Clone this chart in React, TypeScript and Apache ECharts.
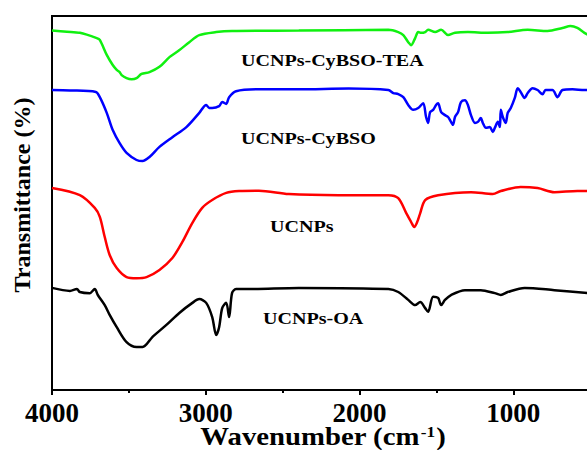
import React, { useEffect, useRef } from "react";
import * as echarts from "echarts";

// FTIR spectra, stacked with vertical offsets (transmittance, a.u.)
const teaWave = [4000, 3903, 3819, 3709, 3689, 3644, 3605, 3579, 3560, 3547, 3515, 3482, 3450, 3418, 3366, 3301, 3236, 3171, 3107, 3042, 2932, 2829, 2395, 1812, 1748, 1715, 1683, 1664, 1638, 1618, 1599, 1573, 1554, 1508, 1469, 1424, 1379, 1295, 1165, 1036, 906, 777, 680, 628, 583, 537, 500];
const teaT = [96.1, 95.8, 95.5, 94.1, 93.6, 89.6, 86.9, 85.6, 85.0, 84.2, 83.4, 83.1, 83.4, 84.5, 85.0, 86.4, 89.0, 90.9, 93.0, 94.9, 95.7, 96.0, 96.1, 96.3, 95.7, 94.9, 93.0, 92.2, 94.1, 95.7, 95.5, 95.7, 96.3, 95.7, 96.3, 94.9, 95.5, 95.7, 95.5, 95.7, 96.3, 96.0, 96.8, 97.3, 96.8, 95.5, 94.7];

const cybsoWave = [4000, 3883, 3715, 3689, 3644, 3605, 3560, 3515, 3450, 3411, 3366, 3301, 3217, 3126, 3042, 2997, 2977, 2958, 2913, 2893, 2867, 2848, 2803, 2654, 2395, 2071, 1812, 1780, 1748, 1715, 1683, 1651, 1618, 1586, 1567, 1554, 1541, 1521, 1502, 1489, 1469, 1444, 1424, 1405, 1392, 1379, 1359, 1340, 1314, 1295, 1275, 1249, 1230, 1211, 1198, 1178, 1152, 1133, 1120, 1100, 1087, 1081, 1068, 1049, 1036, 1016, 990, 971, 952, 926, 906, 874, 842, 809, 790, 745, 712, 680, 615, 537, 500];
const cybsoT = [80.2, 80.1, 79.7, 78.3, 74.1, 69.5, 66.0, 63.4, 61.5, 61.2, 62.3, 65.0, 67.6, 70.3, 74.1, 76.2, 75.4, 75.4, 75.9, 77.0, 76.5, 78.3, 79.9, 80.4, 80.4, 80.6, 80.2, 79.4, 79.1, 78.3, 76.2, 74.9, 75.4, 76.7, 73.0, 71.4, 74.3, 74.9, 76.2, 76.7, 74.3, 73.5, 73.0, 71.7, 70.9, 73.0, 74.3, 77.0, 77.5, 76.2, 73.5, 71.4, 71.7, 72.7, 71.4, 70.1, 70.3, 69.0, 70.1, 71.7, 70.3, 74.9, 73.0, 71.4, 74.1, 75.4, 78.1, 80.7, 79.7, 78.1, 79.4, 80.7, 80.2, 79.1, 80.2, 80.2, 78.3, 80.2, 80.4, 80.2, 80.2];

const ucnpWave = [4000, 3819, 3722, 3689, 3657, 3625, 3579, 3515, 3450, 3385, 3301, 3217, 3152, 3087, 3023, 2958, 2867, 2783, 2654, 2460, 2136, 1812, 1748, 1696, 1664, 1644, 1625, 1605, 1573, 1489, 1275, 1133, 1081, 952, 842, 732, 583, 500];
const ucnpT = [54.0, 52.1, 48.7, 46.3, 40.9, 36.1, 32.6, 30.2, 29.9, 30.2, 32.1, 35.3, 39.6, 44.7, 48.7, 50.8, 52.7, 53.2, 53.3, 52.4, 52.1, 52.1, 51.3, 47.3, 44.9, 43.6, 44.9, 47.3, 50.8, 52.1, 52.9, 52.4, 53.2, 54.3, 54.0, 52.9, 53.2, 53.2];

const oaWave = [4000, 3883, 3838, 3819, 3754, 3722, 3702, 3657, 3625, 3579, 3515, 3450, 3411, 3346, 3256, 3172, 3087, 3042, 2997, 2958, 2932, 2913, 2893, 2867, 2848, 2829, 2803, 2719, 2395, 1812, 1748, 1683, 1638, 1605, 1573, 1554, 1521, 1489, 1469, 1444, 1405, 1314, 1211, 1120, 1081, 1036, 926, 732, 500];
const oaT = [27.3, 26.5, 27.0, 26.2, 25.9, 27.0, 25.4, 22.7, 20.1, 16.8, 12.8, 11.5, 11.5, 14.2, 17.4, 20.6, 23.3, 24.3, 23.3, 19.5, 14.7, 16.8, 21.9, 23.3, 19.5, 25.9, 27.0, 27.0, 27.3, 27.0, 26.2, 24.1, 22.7, 23.5, 21.9, 20.9, 24.9, 24.6, 22.7, 24.1, 25.4, 26.7, 26.7, 25.9, 25.4, 26.2, 27.3, 26.7, 25.9];

const sampleNames = ["UCNPs-CyBSO-TEA", "UCNPs-CyBSO", "UCNPs", "UCNPs-OA"];
const sampleColors = ["#10f010", "#0000ff", "#ff0000", "#000000"];
const xTicks = [4000, 3000, 2000, 1000];

const pairs = (w: number[], t: number[]) => w.map((x, i) => [x, t[i]]);

const FONT = "'Liberation Serif', 'Times New Roman', serif";

export default function App() {
  const ref = useRef<HTMLDivElement>(null);

  useEffect(() => {
    if (!ref.current) return;
    const chart = echarts.init(ref.current, undefined, { renderer: "svg" });
    const spectra = [
      pairs(teaWave, teaT),
      pairs(cybsoWave, cybsoT),
      pairs(ucnpWave, ucnpT),
      pairs(oaWave, oaT),
    ];
    // label anchors for each spectrum (left edge, vertical centre)
    const labelPos = [
      [241, 60],
      [241, 138],
      [270, 226],
      [263, 318],
    ];

    chart.setOption({
      animation: false,
      backgroundColor: "#ffffff",
      grid: {
        left: 52,
        right: 0,
        top: 16,
        bottom: 60,
        show: true,
        borderColor: "#000",
        borderWidth: 2,
        containLabel: false,
      },
      xAxis: {
        type: "value",
        inverse: true,
        min: 0,
        max: 4000,
        interval: 1000,
        axisLine: { show: true, lineStyle: { color: "#000", width: 2 } },
        axisTick: { show: true, inside: false, length: 5, lineStyle: { color: "#000", width: 2 } },
        minorTick: { show: true, splitNumber: 2, length: 3, lineStyle: { color: "#000", width: 2 } },
        splitLine: { show: false },
        minorSplitLine: { show: false },
        axisLabel: {
          show: true,
          margin: 9,
          color: "#000",
          fontFamily: FONT,
          fontWeight: "bold",
          fontSize: 27,
          formatter: (v: number) => (xTicks.includes(v) ? String(v) : ""),
        },
      },
      yAxis: {
        type: "value",
        min: 0,
        max: 100,
        axisLine: { show: false },
        axisTick: { show: false },
        axisLabel: { show: false },
        splitLine: { show: false },
      },
      series: spectra.map((d, i) => ({
        type: "line",
        name: sampleNames[i],
        data: d,
        showSymbol: false,
        smooth: 0.3,
        lineStyle: { color: sampleColors[i], width: 2.5 },
        itemStyle: { color: sampleColors[i] },
        z: 3,
      })),
      graphic: [
        ...sampleNames.map((name, i) => ({
          type: "text",
          x: labelPos[i][0],
          y: labelPos[i][1],
          scaleX: 1.18,
          style: {
            text: name,
            fill: "#000",
            font: `bold 17px ${FONT}`,
            align: "left",
            verticalAlign: "middle",
          },
          z: 10,
        })),
        {
          type: "text",
          x: 22,
          y: 195,
          rotation: Math.PI / 2,
          style: {
            text: "Transmittance (%)",
            fill: "#000",
            font: `bold 24px ${FONT}`,
            align: "center",
            verticalAlign: "middle",
          },
        },
        {
          type: "text",
          x: 323,
          y: 437,
          scaleX: 1.15,
          style: {
            text: "{n|Wavenumber (cm}{s|-1}{n|)}",
            align: "center",
            verticalAlign: "middle",
            rich: {
              n: { fontFamily: FONT, fontWeight: "bold", fontSize: 25, fill: "#000", color: "#000" },
              s: {
                fontFamily: FONT,
                fontWeight: "bold",
                fontSize: 15,
                fill: "#000",
                color: "#000",
                verticalAlign: "top",
                padding: [0, 1, 8, 1],
              },
            },
          },
        },
      ],
    });

    return () => chart.dispose();
  }, []);

  // The plot runs on past the right edge of the 587px view; the overflow is cut off.
  return (
    <div
      ref={ref}
      style={{ position: "fixed", left: 0, top: 0, width: 670, height: 450, background: "#fff" }}
    />
  );
}
